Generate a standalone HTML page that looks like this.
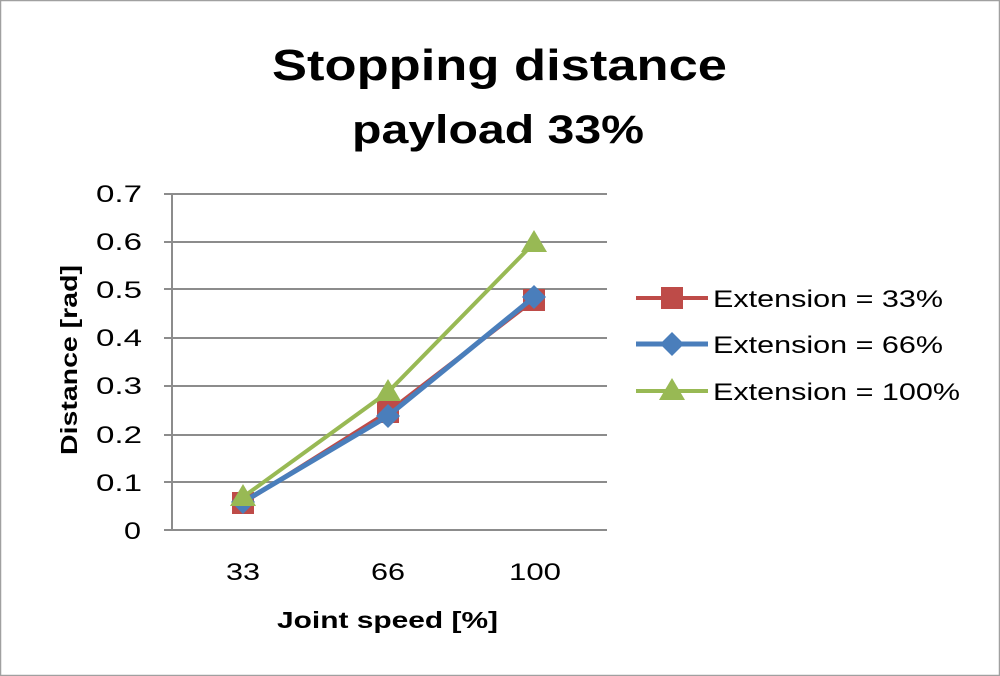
<!DOCTYPE html>
<html><head><style>
body{margin:0;background:#fff}
svg{display:block}
text{font-family:"Liberation Sans",sans-serif}
</style></head><body>
<svg width="1000" height="676" xmlns="http://www.w3.org/2000/svg">
<rect x="0.5" y="0.5" width="999" height="675" fill="#fff" stroke="#a0a0a0" stroke-width="1.5"/>
<text x="272" y="80" font-size="44" font-weight="bold" textLength="455" lengthAdjust="spacingAndGlyphs">Stopping distance</text>
<text x="352" y="143" font-size="40" font-weight="bold" textLength="292" lengthAdjust="spacingAndGlyphs">payload 33%</text>
<g stroke="#8c8c8c" stroke-width="2">
<line x1="164" y1="194" x2="607" y2="194"/>
<line x1="164" y1="242" x2="607" y2="242"/>
<line x1="164" y1="289" x2="607" y2="289"/>
<line x1="164" y1="338" x2="607" y2="338"/>
<line x1="164" y1="386" x2="607" y2="386"/>
<line x1="164" y1="435" x2="607" y2="435"/>
<line x1="164" y1="482" x2="607" y2="482"/>
<line x1="164" y1="530" x2="607" y2="530"/>
<line x1="172" y1="194" x2="172" y2="530"/>
</g>
<g font-size="24" fill="#000">
<text x="96" y="202" textLength="46" lengthAdjust="spacingAndGlyphs">0.7</text>
<text x="96" y="250" textLength="46" lengthAdjust="spacingAndGlyphs">0.6</text>
<text x="96" y="298" textLength="46" lengthAdjust="spacingAndGlyphs">0.5</text>
<text x="96" y="346" textLength="46" lengthAdjust="spacingAndGlyphs">0.4</text>
<text x="96" y="394" textLength="46" lengthAdjust="spacingAndGlyphs">0.3</text>
<text x="96" y="443" textLength="46" lengthAdjust="spacingAndGlyphs">0.2</text>
<text x="96" y="491" textLength="46" lengthAdjust="spacingAndGlyphs">0.1</text>
<text x="124" y="539" textLength="17" lengthAdjust="spacingAndGlyphs">0</text>
</g>
<g font-size="24">
<text x="226" y="580" textLength="34" lengthAdjust="spacingAndGlyphs">33</text>
<text x="371" y="580" textLength="34" lengthAdjust="spacingAndGlyphs">66</text>
<text x="509" y="580" textLength="52" lengthAdjust="spacingAndGlyphs">100</text>
</g>
<text x="277" y="628" font-size="23" font-weight="bold" textLength="221" lengthAdjust="spacingAndGlyphs">Joint speed [%]</text>
<text transform="translate(77,455) rotate(-90)" font-size="23" font-weight="bold" textLength="190" lengthAdjust="spacingAndGlyphs">Distance [rad]</text>
<polyline points="243,503 388,412 534,300" fill="none" stroke="#be4b48" stroke-width="4"/>
<g fill="#be4b48"><rect x="232" y="492" width="22" height="22"/><rect x="377" y="401" width="22" height="22"/><rect x="523" y="289" width="22" height="22"/></g>
<polyline points="243,497 388,392 534,243" fill="none" stroke="#98b954" stroke-width="4"/>
<polyline points="243,502 388,416 534,297" fill="none" stroke="#4a7ebb" stroke-width="5"/>
<g fill="#4a7ebb"><polygon points="243,490 255,502 243,514 231,502"/><polygon points="388,404 400,416 388,428 376,416"/><polygon points="534,285 546,297 534,309 522,297"/></g>
<g fill="#98b954"><polygon points="243,484 256,506 230,506"/><polygon points="388,379 401,401 375,401"/><polygon points="534,230 547,252 521,252"/></g>
<line x1="636" y1="298" x2="708" y2="298" stroke="#be4b48" stroke-width="4"/><rect x="661" y="287" width="22" height="22" fill="#be4b48"/>
<line x1="636" y1="344" x2="708" y2="344" stroke="#4a7ebb" stroke-width="5"/><polygon points="672,332 684,344 672,356 660,344" fill="#4a7ebb"/>
<line x1="636" y1="391" x2="708" y2="391" stroke="#98b954" stroke-width="4"/><polygon points="672,378 685,400 659,400" fill="#98b954"/>
<g font-size="24">
<text x="713" y="307" textLength="230" lengthAdjust="spacingAndGlyphs">Extension = 33%</text>
<text x="713" y="353" textLength="230" lengthAdjust="spacingAndGlyphs">Extension = 66%</text>
<text x="713" y="400" textLength="247" lengthAdjust="spacingAndGlyphs">Extension = 100%</text>
</g>
</svg>
</body></html>
